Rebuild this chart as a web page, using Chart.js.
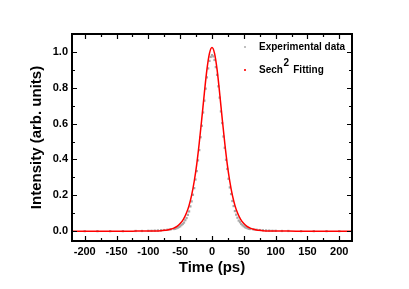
<!DOCTYPE html>
<html>
<head>
<meta charset="utf-8">
<script src="https://cdn.jsdelivr.net/npm/chart.js@4.4.0/dist/chart.umd.min.js"></script>
<style>
    body { margin: 0; background: #fff; }
    canvas { display: block; }
</style>
</head>
<body>
<canvas id="pulso" width="409" height="289"></canvas>
<script>
// Dados (tempo em ps, intensidade normalizada)
const tempoExp = [-220, -200, -180, -160, -140, -120, -110, -100, -95, -90, -85, -80, -75, -70, -65,
    -60, -58, -56, -54, -52, -50, -48, -46, -44, -42, -40, -38, -36, -34, -32, -30, -28, -26, -24, -22,
    -20, -18, -16, -14, -12, -10, -8, -6, -4, -2, 0, 2, 4, 6, 8, 10, 12, 14, 16, 18, 20, 22, 24, 26, 28,
    30, 32, 34, 36, 38, 40, 42, 44, 46, 48, 50, 52, 54, 56, 58, 60,
    65, 70, 75, 80, 85, 90, 95, 100, 110, 120, 140, 160, 180, 200, 220];
const intensExp = [0, 0, 0, 0, 0, 0.001, 0.001, 0.002, 0.002, 0.003, 0.004, 0.005, 0.006, 0.008, 0.010,
    0.012, 0.013, 0.016, 0.019, 0.023, 0.027, 0.034, 0.040, 0.048, 0.061, 0.073, 0.091, 0.110, 0.138, 0.166, 0.203, 0.240, 0.288, 0.335, 0.395,
    0.452, 0.524, 0.588, 0.662, 0.728, 0.795, 0.858, 0.908, 0.950, 0.972, 0.982, 0.975, 0.955, 0.915, 0.872, 0.808, 0.745, 0.668, 0.603, 0.528, 0.465, 0.398, 0.347, 0.292, 0.244,
    0.207, 0.168, 0.140, 0.112, 0.092, 0.075, 0.059, 0.050, 0.040, 0.033, 0.027, 0.022, 0.019, 0.016, 0.013, 0.012,
    0.010, 0.008, 0.006, 0.005, 0.004, 0.003, 0.002, 0.002, 0.001, 0.001, 0, 0, 0, 0, 0];

const tempoFit = [-220, -200, -180, -160, -140, -120, -110, -100, -90, -80, -75, -70, -65, -60, -55, -50,
    -45, -40, -36, -32, -28, -24, -20, -16, -12, -8, -4, 0, 4, 8, 12, 16, 20, 24, 28, 32, 36, 40, 45,
    50, 55, 60, 65, 70, 75, 80, 90, 100, 110, 120, 140, 160, 180, 200, 220];
const intensFit = [0, 0, 0, 0, 0, 0.0001, 0.0002, 0.0005, 0.0011, 0.0028, 0.0045, 0.007, 0.011, 0.017, 0.027, 0.043,
    0.066, 0.1025, 0.144, 0.201, 0.277, 0.373, 0.493, 0.629, 0.771, 0.901, 0.992, 1.025, 0.992, 0.901, 0.771, 0.629, 0.493, 0.373, 0.277, 0.201, 0.144, 0.1025, 0.066,
    0.043, 0.027, 0.017, 0.011, 0.007, 0.0045, 0.0028, 0.0011, 0.0005, 0.0002, 0.0001, 0, 0, 0, 0, 0];

const ticksX = [-200, -150, -100, -50, 0, 50, 100, 150, 200];
const ticksXmenor = [-175, -125, -75, -25, 25, 75, 125, 175];
const ticksY = [0, 0.2, 0.4, 0.6, 0.8, 1.0];
const ticksYmenor = [0.1, 0.3, 0.5, 0.7, 0.9];

const fonte = '"Liberation Sans", Arial, sans-serif';

// junta x e y em pontos
function pontos(xs, ys) {
    return xs.map((x, i) => ({ x: x, y: ys[i] }));
}

// moldura e ticks para dentro nos quatro lados
const moldura = {
    id: 'moldura',
    afterDatasetsDraw(chart) {
        const { ctx, chartArea: a, scales: { x, y } } = chart;
        ctx.save();
        ctx.strokeStyle = '#000';
        ctx.lineWidth = 1.2;
        ctx.beginPath();
        const marca = (lista, tam) => {
            lista.forEach(v => {
                const px = Math.round(x.getPixelForValue(v)) + 0.5;
                ctx.moveTo(px, a.bottom); ctx.lineTo(px, a.bottom - tam);
                ctx.moveTo(px, a.top); ctx.lineTo(px, a.top + tam);
            });
        };
        const marcaY = (lista, tam) => {
            lista.forEach(v => {
                const py = Math.round(y.getPixelForValue(v)) + 0.5;
                ctx.moveTo(a.left, py); ctx.lineTo(a.left + tam, py);
                ctx.moveTo(a.right, py); ctx.lineTo(a.right - tam, py);
            });
        };
        marca(ticksX, 5); marca(ticksXmenor, 3);
        marcaY(ticksY, 5); marcaY(ticksYmenor, 3);
        ctx.stroke();
        ctx.lineWidth = 2;
        ctx.strokeRect(a.left, a.top, a.right - a.left, a.bottom - a.top);
        ctx.restore();
    },
    afterDraw(chart) {
        // legenda dentro da área do gráfico
        const ctx = chart.ctx;
        const itens = [chart.data.datasets[1], chart.data.datasets[0]];
        ctx.save();
        ctx.textBaseline = 'middle';
        ctx.textAlign = 'left';
        itens.forEach((ds, i) => {
            const yy = 47 + i * 23;
            ctx.fillStyle = ds.legendColor;
            ctx.fillRect(244, yy - 1, 2, 2);
            ctx.fillStyle = '#000';
            ctx.font = 'bold 10px ' + fonte;
            const partes = ds.label.split('²');
            let xx = 259;
            ctx.fillText(partes[0], xx, yy);
            if (partes.length > 1) {
                xx += ctx.measureText(partes[0]).width + 0.5;
                ctx.font = 'bold 10px ' + fonte;
                ctx.fillText('2', xx, yy - 7);
                xx += ctx.measureText('2').width + 1.5;
                ctx.fillText(partes[1], xx, yy);
            }
        });
        ctx.restore();
    }
};

new Chart(document.getElementById('pulso'), {
    type: 'scatter',
    data: {
        datasets: [{
            label: 'Sech² Fitting',
            data: pontos(tempoFit, intensFit),
            showLine: true,
            borderColor: '#ff0000',
            backgroundColor: '#ff0000',
            legendColor: '#ff3030',
            borderWidth: 1.5,
            pointRadius: 0,
            cubicInterpolationMode: 'monotone',
            order: 0
        }, {
            label: 'Experimental data',
            data: pontos(tempoExp, intensExp),
            pointStyle: 'rect',
            pointRadius: 1.6,
            borderWidth: 0,
            backgroundColor: '#a8a8a8',
            legendColor: '#c0c0c0',
            order: 1
        }]
    },
    options: {
        responsive: false,
        animation: false,
        devicePixelRatio: 1,
        layout: { padding: { top: 34, right: 57, left: 0, bottom: 0 } },
        plugins: { legend: { display: false }, tooltip: { enabled: false } },
        scales: {
            x: {
                type: 'linear',
                min: -220,
                max: 220,
                grid: { display: false, drawTicks: false },
                border: { display: false },
                afterBuildTicks: s => { s.ticks = ticksX.map(v => ({ value: v })); },
                afterFit: s => { s.height = 48; },
                ticks: {
                    color: '#000',
                    padding: 4,
                    maxRotation: 0,
                    autoSkip: false,
                    font: { family: fonte, size: 11, weight: 'bold' },
                    callback: v => String(v)
                },
                title: {
                    display: true,
                    text: 'Time (ps)',
                    color: '#000',
                    padding: { top: 0, bottom: 12 },
                    font: { family: fonte, size: 15, weight: 'bold' }
                }
            },
            y: {
                min: -0.055,
                max: 1.1,
                grid: { display: false, drawTicks: false },
                border: { display: false },
                afterBuildTicks: s => { s.ticks = ticksY.map(v => ({ value: v })); },
                afterFit: s => { s.width = 72; },
                ticks: {
                    color: '#000',
                    padding: 4,
                    autoSkip: false,
                    font: { family: fonte, size: 11, weight: 'bold' },
                    callback: v => v.toFixed(1)
                },
                title: {
                    display: true,
                    text: 'Intensity (arb. units)',
                    color: '#000',
                    padding: { top: 28, bottom: 0 },
                    font: { family: fonte, size: 15, weight: 'bold' }
                }
            }
        }
    },
    plugins: [moldura]
});
</script>
</body>
</html>
